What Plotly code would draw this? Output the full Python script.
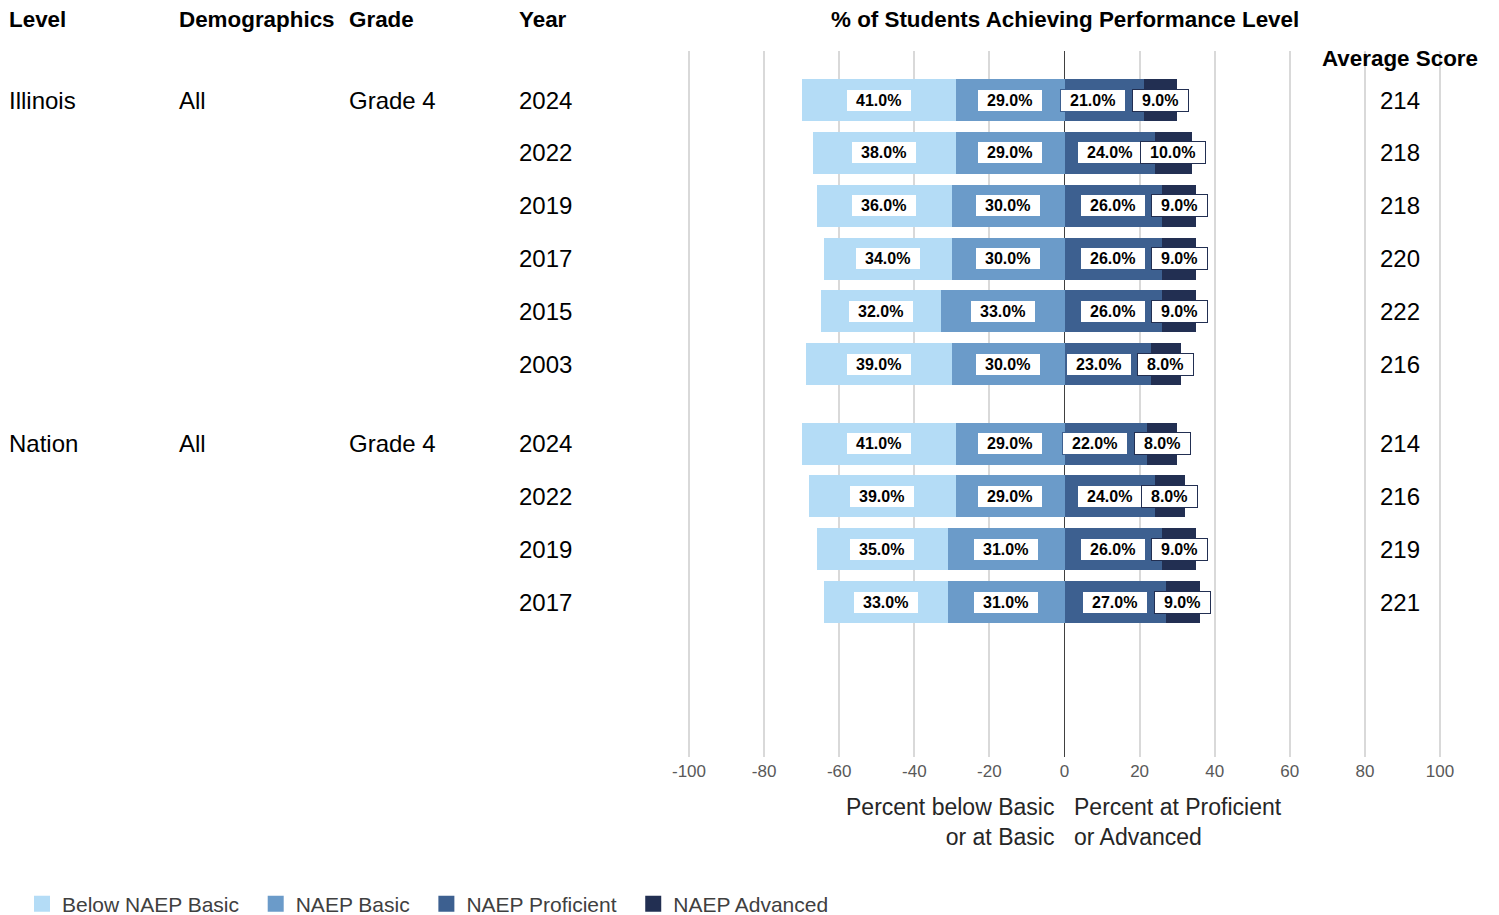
import plotly.graph_objects as go

# ---------------- data ----------------
levels = ["Illinois", "Nation"]
demographics = ["All", "All"]
grades = ["Grade 4", "Grade 4"]
years_il = ["2024", "2022", "2019", "2017", "2015", "2003"]
years_na = ["2024", "2022", "2019", "2017"]

below_il = [41, 38, 36, 34, 32, 39]
basic_il = [29, 29, 30, 30, 33, 30]
prof_il = [21, 24, 26, 26, 26, 23]
adv_il = [9, 10, 9, 9, 9, 8]
score_il = [214, 218, 218, 220, 222, 216]

below_na = [41, 39, 35, 33]
basic_na = [29, 29, 31, 31]
prof_na = [22, 24, 26, 27]
adv_na = [8, 8, 9, 9]
score_na = [214, 216, 219, 221]

series_names = ["Below NAEP Basic", "NAEP Basic", "NAEP Proficient", "NAEP Advanced"]
colors = ["#b4dcf6", "#6b9bc9", "#3d6090", "#222f52"]
tick_vals = [-100, -80, -60, -40, -20, 0, 20, 40, 60, 80, 100]
tick_text = ["-100", "-80", "-60", "-40", "-20", "0", "20", "40", "60", "80", "100"]

# ---------------- layout helpers ----------------
W, H = 1499, 915
OFF = 8  # page body margin
SANS = "Liberation Sans, Arial, sans-serif"


def px(x):
    return (x - OFF) / W


def py(y):
    return 1 - (y - OFF) / H


# row positions (group gap of half a row)
groups = [(years_il, below_il, basic_il, prof_il, adv_il, score_il),
          (years_na, below_na, basic_na, prof_na, adv_na, score_na)]
ypos, below, basic, prof, adv, score, years, group_start = [], [], [], [], [], [], [], []
r = 0.0
for gi, (yr, b, ba, p, a, s) in enumerate(groups):
    if gi > 0:
        r += 0.5
    group_start.append(r)
    for i in range(len(yr)):
        ypos.append(r)
        r += 1
    years += yr
    below += b
    basic += ba
    prof += p
    adv += a
    score += s

BW = 0.795
fig = go.Figure()
# negative side: basic first (adjacent to zero), then below basic
fig.add_trace(go.Bar(y=ypos, x=[-v for v in basic], orientation="h", name=series_names[1],
                     marker=dict(color=colors[1], line=dict(width=0)), width=BW, showlegend=False))
fig.add_trace(go.Bar(y=ypos, x=[-v for v in below], orientation="h", name=series_names[0],
                     marker=dict(color=colors[0], line=dict(width=0)), width=BW, showlegend=False))
fig.add_trace(go.Bar(y=ypos, x=prof, orientation="h", name=series_names[2],
                     marker=dict(color=colors[2], line=dict(width=0)), width=BW, showlegend=False))
fig.add_trace(go.Bar(y=ypos, x=adv, orientation="h", name=series_names[3],
                     marker=dict(color=colors[3], line=dict(width=0)), width=BW, showlegend=False))

# legend entries (square swatches)
for nm, c in zip(series_names, colors):
    fig.add_trace(go.Scatter(x=[None], y=[None], mode="markers", name=nm + "\u00a0\u00a0",
                             marker=dict(symbol="square", size=16, color=c, line=dict(width=0)),
                             showlegend=True, hoverinfo="skip"))

annotations = []
PX_PER_UNIT = (1440 - 689) / 200.0
PADU = 0.32  # small range padding so the edge gridlines are drawn


def box_w(txt):
    w = 0
    for ch in txt:
        w += 9 if ch.isdigit() else (4.5 if ch == "." else 14)
    return w + 18


def lab(x, y, v, col):
    t = f"{v:.1f}%"
    annotations.append(dict(x=x, y=y, xref="x", yref="y", text=f"<b>{t}</b>", showarrow=False,
                            font=dict(family=SANS, size=16, color="#000000"),
                            bgcolor="#ffffff", bordercolor=col, borderwidth=1, borderpad=0,
                            width=box_w(t), height=21, xanchor="center", yanchor="middle"))


for i, y in enumerate(ypos):
    lab(-(basic[i] + below[i] / 2.0), y, below[i], colors[0])
    lab(-basic[i] / 2.0, y, basic[i], colors[1])
    adv_c = prof[i] + adv[i] / 2.0
    adv_left = adv_c - box_w(f"{adv[i]:.1f}%") / 2.0 / PX_PER_UNIT
    prof_half = box_w(f"{prof[i]:.1f}%") / 2.0 / PX_PER_UNIT
    prof_c = prof[i] / 2.0
    if prof_c + prof_half > adv_left:
        prof_c = adv_left - 8 / PX_PER_UNIT - prof_half
    lab(prof_c, y, prof[i], colors[2])
    lab(adv_c, y, adv[i], colors[3])

# table columns
col_x = [7, 177, 347, 517]
headers = ["Level", "Demographics", "Grade", "Year"]
for hx, ht in zip(col_x, headers):
    annotations.append(dict(x=px(hx), y=py(19), xref="paper", yref="paper", text=f"<b>{ht}</b>",
                            showarrow=False, xanchor="left", yanchor="middle",
                            font=dict(family=SANS, size=22.4, color="#000000")))
annotations.append(dict(x=px(1065), y=py(19), xref="paper", yref="paper",
                        text="<b>% of Students Achieving Performance Level</b>", showarrow=False,
                        xanchor="center", yanchor="middle",
                        font=dict(family=SANS, size=22.4, color="#000000")))
annotations.append(dict(x=px(1400), y=py(59), xref="paper", yref="paper",
                        text="<b>Average Score</b>", showarrow=False,
                        xanchor="center", yanchor="middle", font=dict(family=SANS, size=22.4, color="#000000")))

row_font = dict(family=SANS, size=24, color="#000000")
for gi, gs in enumerate(group_start):
    for cx, txt in zip(col_x[:3], [levels[gi], demographics[gi], grades[gi]]):
        annotations.append(dict(x=px(cx), y=gs, xref="paper", yref="y", text=txt, showarrow=False,
                                xanchor="left", yanchor="middle", font=row_font))
for i, y in enumerate(ypos):
    annotations.append(dict(x=px(col_x[3]), y=y, xref="paper", yref="y", text=years[i], showarrow=False,
                            xanchor="left", yanchor="middle", font=row_font))
    annotations.append(dict(x=px(1400), y=y, xref="paper", yref="y", text=str(score[i]), showarrow=False,
                            xanchor="center", yanchor="middle", font=row_font))

# axis titles
title_font = dict(family=SANS, size=23, color="#262626")
annotations.append(dict(x=px(1056), y=py(822), xref="paper", yref="paper",
                        text="Percent below Basic<br>or at Basic", showarrow=False, align="right",
                        xanchor="right", yanchor="middle", font=title_font))
annotations.append(dict(x=px(1072), y=py(822), xref="paper", yref="paper",
                        text="Percent at Proficient<br>or Advanced", showarrow=False, align="left",
                        xanchor="left", yanchor="middle", font=title_font))

fig.update_layout(
    width=W, height=H,
    margin=dict(l=0, r=0, t=0, b=0, autoexpand=False),
    paper_bgcolor="white", plot_bgcolor="white",
    barmode="relative", bargap=0,
    showlegend=True,
    legend=dict(orientation="h", x=px(22), y=py(904), xanchor="left", yanchor="middle",
                itemsizing="trace", font=dict(family=SANS, size=21, color="#404040"),
                traceorder="normal"),
    xaxis=dict(domain=[px(689 - PADU * PX_PER_UNIT), px(1440 + PADU * PX_PER_UNIT)],
               range=[-100 - PADU, 100 + PADU], tickvals=tick_vals, ticktext=tick_text,
               showgrid=True, gridcolor="#d9d9d9", gridwidth=2,
               zeroline=True, zerolinecolor="#404040", zerolinewidth=1,
               showline=False, ticks="", ticklabelstandoff=2,
               tickfont=dict(family=SANS, size=17, color="#595959")),
    yaxis=dict(domain=[py(757), py(51)], range=[12.43, -0.927],
               showgrid=False, zeroline=False, showticklabels=False, showline=False, ticks=""),
    annotations=annotations,
)

fig.write_html("out.html")
